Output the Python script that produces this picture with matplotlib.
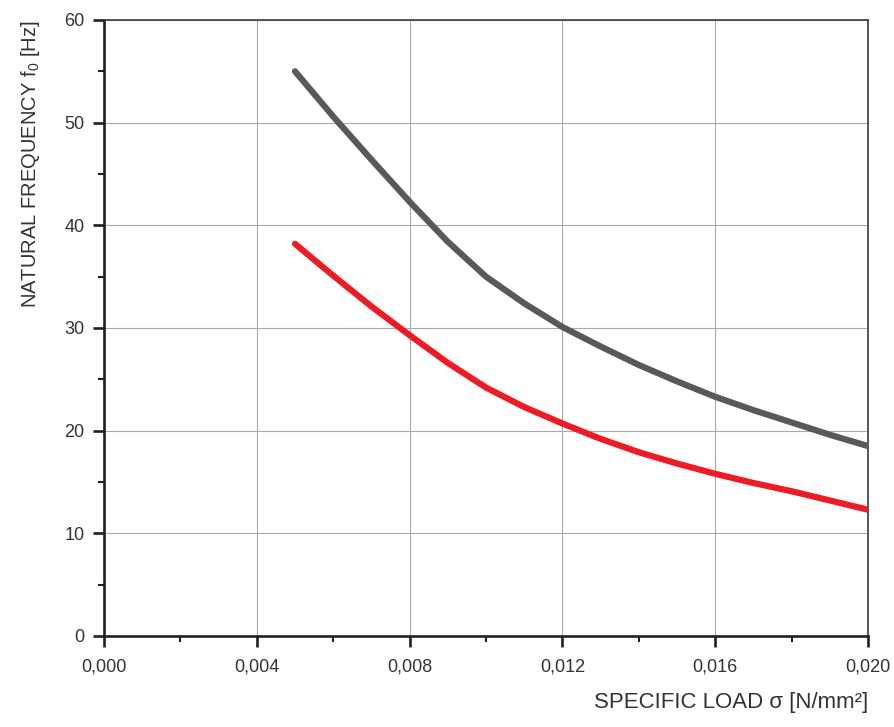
import matplotlib
matplotlib.use("Agg")
import matplotlib.pyplot as plt
from matplotlib.ticker import MultipleLocator, FuncFormatter

plt.rcParams['font.family'] = ['Liberation Sans', 'DejaVu Sans']

# specific load [N/mm2] and natural frequency [Hz] for the two curves
load = [0.005, 0.006, 0.007, 0.008, 0.009, 0.010, 0.011, 0.012,
        0.013, 0.014, 0.015, 0.016, 0.017, 0.018, 0.019, 0.020]
freq_grey = [55.0, 50.6, 46.4, 42.3, 38.4, 35.0, 32.4, 30.1,
             28.2, 26.4, 24.8, 23.3, 22.0, 20.8, 19.6, 18.5]
freq_red = [38.2, 35.1, 32.1, 29.3, 26.6, 24.2, 22.3, 20.7,
            19.2, 17.9, 16.8, 15.8, 14.9, 14.1, 13.2, 12.3]

x_ticks = [0.000, 0.004, 0.008, 0.012, 0.016, 0.020]
y_ticks = [0, 10, 20, 30, 40, 50, 60]

fig = plt.figure(figsize=(8.95, 7.27), dpi=100)
ax = fig.add_axes([0.1162, 0.1252, 0.8536, 0.8473])

ax.plot(load, freq_grey, color='#58595b', lw=4.5, solid_capstyle='round',
        solid_joinstyle='round', zorder=3)
ax.plot(load, freq_red, color='#ed1c24', lw=4.5, solid_capstyle='round',
        solid_joinstyle='round', zorder=3)

ax.set_xlim(0, 0.020)
ax.set_ylim(0, 60)
ax.set_xticks(x_ticks)
ax.set_yticks(y_ticks)
ax.xaxis.set_minor_locator(MultipleLocator(0.002))
ax.yaxis.set_minor_locator(MultipleLocator(5))
ax.xaxis.set_major_formatter(FuncFormatter(lambda v, p: f"{v:.3f}".replace('.', ',')))

ax.grid(True, which='major', color='#a7a9ac', lw=0.8, zorder=1)

for side in ('left', 'bottom'):
    ax.spines[side].set_linewidth(1.9)
    ax.spines[side].set_color('#231f20')
for side in ('top', 'right'):
    ax.spines[side].set_linewidth(1.2)
    ax.spines[side].set_color('#3a3a3c')

ax.tick_params(which='major', direction='out', length=8, width=1.9,
               color='#231f20', labelsize=13, labelcolor='#333333', pad=6)
ax.tick_params(which='minor', direction='out', length=4, width=1.5, color='#231f20')
ax.tick_params(axis='x', which='major', pad=8)

ax.set_xlabel('SPECIFIC LOAD σ [N/mm²]', fontsize=16, color='#333333',
              loc='right', labelpad=12)
ax.set_ylabel('NATURAL FREQUENCY $\\mathregular{f_0}$ [Hz]', fontsize=14.5,
              color='#333333', loc='top', labelpad=16)

fig.savefig('out.png', dpi=100)
